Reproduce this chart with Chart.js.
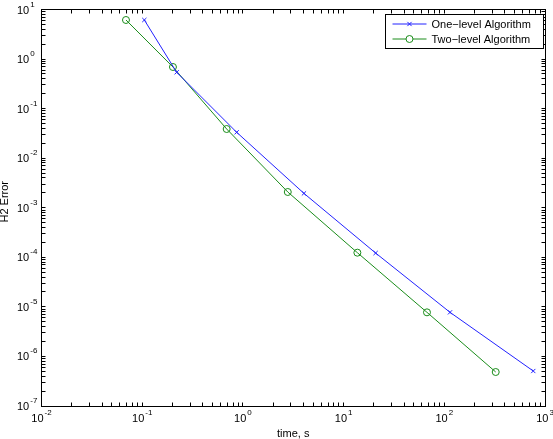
<!DOCTYPE html>
<html>
<head>
<meta charset="utf-8">
<script src="https://cdn.jsdelivr.net/npm/chart.js@4.4.1/dist/chart.umd.min.js"></script>
<style>
  body { margin: 0; background: #fff; }
  #wrap { width: 553px; height: 439px; }
</style>
</head>
<body>
<div id="wrap"><canvas id="chart" width="553" height="439"></canvas></div>
<script>
// values (log-log axes)
const oneLevelTime = [0.105, 0.220, 0.867, 4.04, 20.8, 114, 765];
const oneLevelError = [6.14, 0.541, 0.0333, 0.00195, 1.22e-4, 7.76e-6, 5.08e-7];
const twoLevelTime = [0.069, 0.202, 0.690, 2.79, 13.7, 67.3, 324];
const twoLevelError = [6.14, 0.692, 0.0388, 0.00208, 1.24e-4, 7.76e-6, 4.85e-7];

const seriesLabels = ['One\u2212level Algorithm', 'Two\u2212level Algorithm'];
const xTickExponents = [-2, -1, 0, 1, 2, 3];
const yTickExponents = [1, 0, -1, -2, -3, -4, -5, -6, -7];
const xAxisTitle = 'time, s';
const yAxisTitle = 'H2 Error';

const FONT = '"Liberation Sans", Arial, sans-serif';
const TICK_LEN = 4;

function toPoints(xs, ys) {
    return xs.map((x, i) => ({ x: x, y: ys[i] }));
}

// "10" with a raised exponent; align 'center' centres the whole label on x
function drawPower(ctx, exp, x, y, align) {
    ctx.font = `11px ${FONT}`;
    const wBase = ctx.measureText('10').width;
    ctx.font = `8px ${FONT}`;
    const sup = String(exp);
    const wSup = ctx.measureText(sup).width;
    const left = align === 'center' ? x - (wBase + 1 + wSup) / 2 : x;
    ctx.textAlign = 'left';
    ctx.textBaseline = 'alphabetic';
    ctx.font = `11px ${FONT}`;
    ctx.fillText('10', left, y);
    ctx.font = `8px ${FONT}`;
    ctx.fillText(sup, left + wBase + 1, y - 7);
}

function logTickValues(minExp, maxExp) {
    const vals = [];
    for (let k = minExp; k < maxExp; k++) {
        for (let m = 1; m <= 9; m++) vals.push(m * Math.pow(10, k));
    }
    vals.push(Math.pow(10, maxExp));
    return vals;
}

// matlab-like box, inward ticks, tick labels, titles and legend
const matlabAxes = {
    id: 'matlabAxes',
    afterDraw(chart) {
        const ctx = chart.ctx;
        const { left, right, top, bottom } = chart.chartArea;
        const xs = chart.scales.x, ys = chart.scales.y;
        const L = Math.floor(left) + 0.5, R = Math.floor(right) + 0.5;
        const T = Math.floor(top) + 0.5, B = Math.floor(bottom) + 0.5;

        ctx.save();
        ctx.strokeStyle = '#000';
        ctx.fillStyle = '#000';
        ctx.lineWidth = 1;
        ctx.strokeRect(L, T, R - L, B - T);

        ctx.beginPath();
        logTickValues(Math.min(...xTickExponents), Math.max(...xTickExponents)).forEach(v => {
            const px = Math.floor(xs.getPixelForValue(v)) + 0.5;
            ctx.moveTo(px, B); ctx.lineTo(px, B - TICK_LEN);
            ctx.moveTo(px, T); ctx.lineTo(px, T + TICK_LEN);
        });
        logTickValues(Math.min(...yTickExponents), Math.max(...yTickExponents)).forEach(v => {
            const py = Math.floor(ys.getPixelForValue(v)) + 0.5;
            ctx.moveTo(L, py); ctx.lineTo(L + TICK_LEN, py);
            ctx.moveTo(R, py); ctx.lineTo(R - TICK_LEN, py);
        });
        ctx.stroke();

        xTickExponents.forEach(e => {
            drawPower(ctx, e, xs.getPixelForValue(Math.pow(10, e)), bottom + 15.5, 'center');
        });
        yTickExponents.forEach(e => {
            drawPower(ctx, e, 17, ys.getPixelForValue(Math.pow(10, e)) + 4, 'left');
        });

        // axis titles
        ctx.font = `11px ${FONT}`;
        ctx.textAlign = 'center';
        ctx.textBaseline = 'alphabetic';
        ctx.fillText(xAxisTitle, (left + right) / 2, 437);
        ctx.save();
        ctx.translate(8, (top + bottom) / 2 - 6);
        ctx.rotate(-Math.PI / 2);
        ctx.fillText(yAxisTitle, 0, 0);
        ctx.restore();

        // legend box
        const bx = 385.5, by = Math.floor(top) + 5.5, bw = 158, bh = 34;
        ctx.fillStyle = '#fff';
        ctx.fillRect(bx, by, bw, bh);
        ctx.strokeRect(bx, by, bw, bh);
        chart.data.datasets.forEach((ds, i) => {
            const ry = by + 9.5 + i * 15;
            ctx.strokeStyle = ds.borderColor;
            ctx.lineWidth = 1;
            ctx.beginPath();
            ctx.moveTo(bx + 7, ry); ctx.lineTo(bx + 41, ry);
            ctx.stroke();
            ctx.fillStyle = '#fff';
            Chart.helpers.drawPoint(ctx, {
                pointStyle: ds.pointStyle, radius: ds.pointRadius, borderWidth: 1, rotation: 0
            }, bx + 24, ry);
            ctx.fillStyle = '#000';
            ctx.font = `11px ${FONT}`;
            ctx.textAlign = 'left';
            ctx.textBaseline = 'middle';
            ctx.fillText(ds.label, bx + 46, ry + 0.5);
        });
        ctx.restore();
    }
};

new Chart(document.getElementById('chart'), {
    type: 'line',
    data: {
        datasets: [{
            label: seriesLabels[0],
            data: toPoints(oneLevelTime, oneLevelError),
            borderColor: '#2222ff',
            borderWidth: 1,
            pointStyle: 'crossRot',
            pointRadius: 3,
            pointBorderColor: '#2222ff',
            pointBorderWidth: 1,
            fill: false,
            tension: 0
        }, {
            label: seriesLabels[1],
            data: toPoints(twoLevelTime, twoLevelError),
            borderColor: '#1a8c1a',
            borderWidth: 1,
            pointStyle: 'circle',
            pointRadius: 3.5,
            pointBorderColor: '#1a8c1a',
            pointBackgroundColor: 'rgba(0,0,0,0)',
            pointBorderWidth: 1,
            fill: false,
            tension: 0
        }]
    },
    options: {
        responsive: false,
        animation: false,
        events: [],
        layout: { padding: { top: 9.5, right: 8, left: 0, bottom: 0 } },
        plugins: { legend: { display: false }, tooltip: { enabled: false } },
        scales: {
            x: {
                type: 'logarithmic',
                min: 0.01,
                max: 1000,
                grid: { display: false },
                border: { display: false },
                ticks: { display: false },
                afterFit: s => { s.height = 33; }
            },
            y: {
                type: 'logarithmic',
                min: 1e-7,
                max: 10,
                grid: { display: false },
                border: { display: false },
                ticks: { display: false },
                afterFit: s => { s.width = 41.5; }
            }
        }
    },
    plugins: [matlabAxes]
});
</script>
</body>
</html>
